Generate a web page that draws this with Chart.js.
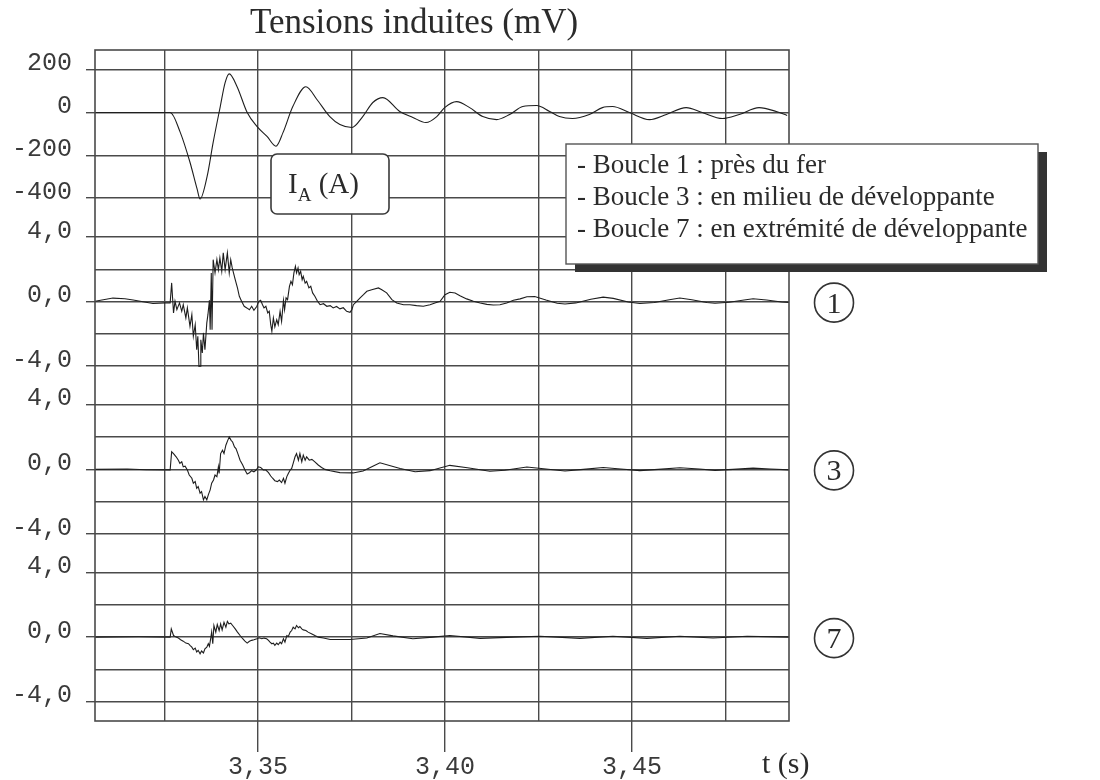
<!DOCTYPE html>
<html lang="fr">
<head>
<meta charset="utf-8">
<title>Tensions induites</title>
<script src="https://cdn.jsdelivr.net/npm/chart.js@4.4.1/dist/chart.umd.min.js"></script>
<style>
  html, body { margin: 0; padding: 0; background: #fff; }
  canvas { display: block; }
</style>
</head>
<body>
<canvas id="graphique" width="1100" height="780"></canvas>
<script>
// courant I_A (A)
const tIA = [3.3064, 3.3185, 3.3265, 3.3292, 3.3318, 3.3337, 3.3345, 3.3364, 3.3380, 3.3399,
  3.3412, 3.3423, 3.3444, 3.3471, 3.3497, 3.3524, 3.3548, 3.3567, 3.3593, 3.3628,
  3.3658, 3.3692, 3.3719, 3.3751, 3.3780, 3.3807, 3.3834, 3.3879, 3.3914, 3.3949,
  3.3978, 3.3999, 3.4031, 3.4066, 3.4101, 3.4138, 3.4173, 3.4208, 3.4245, 3.4280,
  3.4306, 3.4341, 3.4386, 3.4421, 3.4448, 3.4493, 3.4547, 3.4592, 3.4645, 3.4688,
  3.4742, 3.4787, 3.4840, 3.4886, 3.4915];
const vIA = [0, 0, 0, -93, -233, -358, -405, -298, -140, 28,
  140, 181, 121, 0, -65, -112, -158, -93, 28, 121,
  60, -19, -56, -70, -19, 47, 70, 5, -23, -47,
  -19, 23, 51, 23, -19, -33, -9, 28, 33, 5,
  -19, -28, -9, 23, 28, 0, -33, -9, 23, 0,
  -28, -9, 23, 5, -14];

// boucle 1 (mV)
const tB1 = [3.3064, 3.3112, 3.3144, 3.3166, 3.3219, 3.3251, 3.3265, 3.3269, 3.3274, 3.3278,
  3.3283, 3.3290, 3.3296, 3.3300, 3.3307, 3.3311, 3.3318, 3.3323, 3.3327, 3.3332,
  3.3336, 3.3339, 3.3342, 3.3345, 3.3347, 3.3351, 3.3354, 3.3358, 3.3363, 3.3366,
  3.3370, 3.3372, 3.3375, 3.3377, 3.3380, 3.3385, 3.3390, 3.3394, 3.3398, 3.3403,
  3.3407, 3.3412, 3.3418, 3.3423, 3.3427, 3.3431, 3.3439, 3.3445, 3.3450, 3.3456,
  3.3463, 3.3470, 3.3477, 3.3483, 3.3489, 3.3497, 3.3502, 3.3507, 3.3512, 3.3516,
  3.3521, 3.3526, 3.3530, 3.3534, 3.3537, 3.3541, 3.3545, 3.3550, 3.3554, 3.3559,
  3.3563, 3.3568, 3.3571, 3.3575, 3.3579, 3.3584, 3.3588, 3.3592, 3.3596, 3.3600,
  3.3603, 3.3607, 3.3610, 3.3614, 3.3618, 3.3621, 3.3626, 3.3630, 3.3636, 3.3641,
  3.3646, 3.3652, 3.3659, 3.3666, 3.3675, 3.3684, 3.3693, 3.3701, 3.3710, 3.3719,
  3.3728, 3.3737, 3.3746, 3.3751, 3.3755, 3.3764, 3.3773, 3.3782, 3.3791, 3.3804,
  3.3822, 3.3831, 3.3844, 3.3858, 3.3871, 3.3889, 3.3906, 3.3924, 3.3942, 3.3960,
  3.3973, 3.3987, 3.4000, 3.4013, 3.4027, 3.4040, 3.4058, 3.4076, 3.4094, 3.4112,
  3.4129, 3.4147, 3.4165, 3.4183, 3.4201, 3.4219, 3.4240, 3.4270, 3.4300, 3.4321,
  3.4350, 3.4390, 3.4423, 3.4450, 3.4490, 3.4521, 3.4560, 3.4600, 3.4628, 3.4660,
  3.4700, 3.4722, 3.4760, 3.4800, 3.4824, 3.4860, 3.4900, 3.4920];
const vB1 = [0.02, 0.22, 0.18, 0.10, -0.12, -0.08, -0.08, 1.16, -0.70, 0.02,
  -0.50, -0.08, -0.60, -0.19, -1.01, -0.39, -1.53, -0.81, -2.15, -1.43,
  -2.98, -2.15, -4.01, -4.00, -2.36, -3.18, -1.94, -2.98, -1.32, -0.81,
  0.08, -1.74, 1.78, -1.74, 2.60, 1.78, 2.60, 1.98, 2.71, 1.88,
  3.02, 1.98, 3.02, 1.78, 2.60, 2.09, 1.36, 0.85, 0.33, 0.02,
  -0.29, -0.39, -0.50, -0.29, -0.54, -0.29, 0.02, 0.08, -0.19, -0.39,
  -0.29, -0.70, -0.60, -1.43, -1.84, -1.01, -1.57, -1.12, -1.43, -0.60,
  -1.22, 0.08, -0.50, 0.23, 0.12, 0.95, 1.26, 1.05, 1.78, 2.19,
  1.78, 2.09, 1.67, 1.88, 1.36, 1.57, 1.15, 1.26, 0.85, 0.95,
  0.54, 0.33, 0.02, -0.19, -0.13, -0.29, -0.25, -0.39, -0.30, -0.45,
  -0.38, -0.60, -0.66, -0.50, -0.19, 0.02, 0.23, 0.43, 0.64, 0.74,
  0.85, 0.74, 0.54, 0.12, -0.08, -0.19, -0.19, -0.25, -0.29, -0.19,
  -0.08, 0.02, 0.43, 0.58, 0.54, 0.37, 0.17, 0.02, -0.08, -0.17,
  -0.21, -0.19, -0.08, 0.08, 0.17, 0.30, 0.32, 0.10, -0.10, -0.15,
  -0.08, 0.15, 0.28, 0.20, -0.02, -0.12, -0.05, 0.12, 0.22, 0.12,
  -0.05, -0.10, -0.04, 0.10, 0.18, 0.10, -0.02, -0.05];

// boucle 3 (mV)
const tB3 = [3.3064, 3.3150, 3.3200, 3.3265, 3.3269, 3.3274, 3.3281, 3.3287, 3.3291, 3.3296,
  3.3300, 3.3305, 3.3311, 3.3316, 3.3323, 3.3327, 3.3332, 3.3336, 3.3340, 3.3345,
  3.3349, 3.3354, 3.3358, 3.3363, 3.3367, 3.3372, 3.3376, 3.3381, 3.3385, 3.3390,
  3.3394, 3.3396, 3.3400, 3.3405, 3.3409, 3.3414, 3.3419, 3.3423, 3.3428, 3.3432,
  3.3437, 3.3441, 3.3446, 3.3452, 3.3459, 3.3465, 3.3471, 3.3477, 3.3483, 3.3489,
  3.3495, 3.3501, 3.3507, 3.3514, 3.3521, 3.3528, 3.3534, 3.3539, 3.3545, 3.3552,
  3.3557, 3.3563, 3.3568, 3.3572, 3.3577, 3.3581, 3.3586, 3.3590, 3.3594, 3.3599,
  3.3603, 3.3608, 3.3612, 3.3617, 3.3621, 3.3626, 3.3630, 3.3637, 3.3644, 3.3652,
  3.3661, 3.3670, 3.3679, 3.3693, 3.3719, 3.3754, 3.3781, 3.3807, 3.3826, 3.3861,
  3.3880, 3.3920, 3.3960, 3.4013, 3.4060, 3.4120, 3.4160, 3.4219, 3.4270, 3.4321,
  3.4370, 3.4423, 3.4470, 3.4521, 3.4570, 3.4628, 3.4680, 3.4722, 3.4770, 3.4824,
  3.4870, 3.4920];
const vB3 = [0.00, 0.02, -0.02, -0.03, 1.09, 0.98, 0.78, 0.57, 0.37, 0.47,
  0.16, 0.20, -0.04, -0.35, -0.55, -0.86, -0.76, -1.17, -1.07, -1.48,
  -1.38, -1.89, -1.68, -1.89, -1.58, -1.27, -0.86, -0.66, -0.35, -0.45,
  0.16, -0.25, 0.98, 1.19, 0.98, 1.50, 1.80, 2.01, 1.80, 1.70,
  1.39, 1.29, 0.98, 0.57, 0.27, -0.04, -0.29, -0.21, -0.08, -0.15,
  -0.04, 0.16, 0.12, -0.03, -0.04, -0.20, -0.41, -0.55, -0.70, -0.76,
  -0.66, -0.82, -0.55, -0.86, -0.45, -0.25, -0.04, 0.06, 0.37, 0.78,
  0.98, 0.57, 0.98, 0.47, 0.88, 0.57, 0.78, 0.57, 0.62, 0.47,
  0.27, 0.12, 0.00, -0.08, -0.20, -0.22, -0.10, 0.20, 0.41, 0.18,
  0.05, -0.15, -0.08, 0.25, 0.10, -0.12, -0.05, 0.15, 0.02, -0.10,
  0.00, 0.12, 0.02, -0.08, 0.00, 0.10, 0.02, -0.06, 0.00, 0.08,
  0.02, -0.03];

// boucle 7 (mV)
const tB7 = [3.3064, 3.3180, 3.3265, 3.3268, 3.3274, 3.3281, 3.3287, 3.3293, 3.3300, 3.3307,
  3.3314, 3.3318, 3.3323, 3.3327, 3.3332, 3.3336, 3.3340, 3.3345, 3.3349, 3.3354,
  3.3358, 3.3363, 3.3367, 3.3370, 3.3374, 3.3376, 3.3379, 3.3382, 3.3387, 3.3391,
  3.3396, 3.3400, 3.3404, 3.3409, 3.3414, 3.3418, 3.3422, 3.3427, 3.3432, 3.3439,
  3.3445, 3.3452, 3.3459, 3.3465, 3.3471, 3.3477, 3.3483, 3.3489, 3.3497, 3.3503,
  3.3510, 3.3516, 3.3523, 3.3528, 3.3532, 3.3537, 3.3541, 3.3545, 3.3550, 3.3554,
  3.3559, 3.3563, 3.3568, 3.3572, 3.3577, 3.3581, 3.3586, 3.3590, 3.3594, 3.3599,
  3.3603, 3.3608, 3.3612, 3.3617, 3.3621, 3.3628, 3.3634, 3.3644, 3.3652, 3.3661,
  3.3675, 3.3693, 3.3746, 3.3791, 3.3826, 3.3861, 3.3914, 3.3968, 3.4013, 3.4094,
  3.4182, 3.4254, 3.4361, 3.4449, 3.4540, 3.4628, 3.4717, 3.4808, 3.4920];
const vB7 = [0.00, 0.02, 0.00, 0.51, 0.10, 0.00, -0.06, -0.16, -0.25, -0.37,
  -0.41, -0.51, -0.62, -0.78, -0.68, -0.92, -0.82, -1.03, -0.86, -0.98,
  -0.72, -0.62, -0.41, -0.57, 0.00, 0.31, -0.41, 0.72, 0.31, 0.78,
  0.41, 0.82, 0.45, 0.92, 0.62, 0.98, 0.82, 0.86, 0.72, 0.51,
  0.31, 0.10, -0.10, -0.25, -0.37, -0.26, -0.20, -0.16, -0.10, -0.04,
  -0.10, -0.06, -0.10, -0.20, -0.31, -0.41, -0.37, -0.51, -0.37, -0.47,
  -0.31, -0.41, -0.10, -0.31, 0.10, 0.04, 0.31, 0.41, 0.62, 0.51,
  0.72, 0.58, 0.66, 0.51, 0.45, 0.41, 0.31, 0.20, 0.10, 0.00,
  -0.05, -0.15, -0.15, -0.05, 0.22, 0.08, -0.10, 0.00, 0.10, -0.08,
  0.00, 0.05, -0.08, 0.05, -0.08, 0.05, -0.05, 0.05, 0.00];

const ticksT = [3.325, 3.35, 3.375, 3.40, 3.425, 3.45, 3.475];
const ticksTEtiquette = [3.35, 3.40, 3.45];
const ticksIA = [-400, -200, 0, 200];
const ticksBoucle = [-4, -2, 0, 2, 4];
const ticksBoucleEtiquette = [-4, 0, 4];
const legende = ['- Boucle 1 : près du fer',
  '- Boucle 3 : en milieu de développante',
  '- Boucle 7 : en extrémité de développante'];

const gris = '#4a4a4a';
const trait = '#1e1e1e';
const texte = '#2b2b2b';
const invisible = 'rgba(0,0,0,0)';
const mono = {family: 'Liberation Mono', size: 25};

function points(t, v) {
    return t.map((x, i) => ({x: x, y: v[i]}));
}

function virgule(v, d) {
    return v.toFixed(d).replace('.', ',');
}

function estEtiquetteT(v) {
    return ticksTEtiquette.some(l => Math.abs(l - v) < 1e-6);
}

function axeY(poids, min, max, valeurs, etiquettes, format) {
    return {
        type: 'linear',
        position: 'left',
        stack: 'tensions',
        stackWeight: 1,
        weight: poids,
        min: min,
        max: max,
        afterBuildTicks: s => { s.ticks = valeurs.map(v => ({value: v})); },
        afterFit: s => { s.width = 95; },
        border: {display: false},
        grid: {
            color: gris,
            lineWidth: 1.4,
            tickLength: 9,
            tickColor: c => (c.tick && etiquettes.includes(c.tick.value)) ? gris : invisible
        },
        ticks: {
            autoSkip: false,
            padding: 14,
            labelOffset: -6,
            color: '#3a3a3a',
            font: mono,
            callback: v => etiquettes.includes(v) ? format(v) : ''
        }
    };
}

function serie(t, v, axe, lisse) {
    return {
        data: points(t, v),
        yAxisID: axe,
        borderColor: trait,
        borderWidth: 1.1,
        pointRadius: 0,
        tension: 0,
        cubicInterpolationMode: lisse ? 'monotone' : 'default'
    };
}

const habillage = {
    id: 'habillage',
    afterDraw(chart) {
        const ctx = chart.ctx;
        const a = chart.chartArea;
        ctx.save();

        // cadre
        ctx.strokeStyle = gris;
        ctx.lineWidth = 1.6;
        ctx.strokeRect(a.left, a.top, a.right - a.left, a.bottom - a.top);

        ctx.textAlign = 'left';
        ctx.textBaseline = 'alphabetic';
        ctx.fillStyle = texte;
        ctx.font = '35px "Liberation Serif"';
        ctx.fillText('Tensions induites (mV)', 250, 33);

        // cartouche I_A (A)
        ctx.beginPath();
        ctx.roundRect(271, 154, 118, 60, 6);
        ctx.fillStyle = '#fff';
        ctx.fill();
        ctx.strokeStyle = '#3a3a3a';
        ctx.lineWidth = 1.6;
        ctx.stroke();
        ctx.fillStyle = texte;
        ctx.font = '29px "Liberation Serif"';
        ctx.fillText('I', 288, 193);
        let x = 288 + ctx.measureText('I').width;
        ctx.font = '19px "Liberation Serif"';
        ctx.fillText('A', x, 201);
        x += ctx.measureText('A').width;
        ctx.font = '29px "Liberation Serif"';
        ctx.fillText(' (A)', x, 193);

        // legende avec ombre
        ctx.fillStyle = '#333';
        ctx.fillRect(575, 152, 472, 120);
        ctx.fillStyle = '#fff';
        ctx.fillRect(566, 144, 472, 120);
        ctx.strokeStyle = '#555';
        ctx.lineWidth = 1.4;
        ctx.strokeRect(566, 144, 472, 120);
        ctx.fillStyle = texte;
        ctx.font = '27px "Liberation Serif"';
        legende.forEach((l, i) => ctx.fillText(l, 577, 173 + i * 32));

        // numeros de boucle
        [['y1', '1'], ['y3', '3'], ['y7', '7']].forEach(([id, n]) => {
            const y = chart.scales[id].getPixelForValue(0) + 1;
            ctx.beginPath();
            ctx.arc(834, y, 19.5, 0, Math.PI * 2);
            ctx.strokeStyle = '#333';
            ctx.lineWidth = 1.6;
            ctx.stroke();
            ctx.textAlign = 'center';
            ctx.font = '30px "Liberation Serif"';
            ctx.fillText(n, 834, y + 10);
        });

        ctx.textAlign = 'left';
        ctx.font = '30px "Liberation Serif"';
        ctx.fillText('t (s)', 762, 773);
        ctx.restore();
    }
};

new Chart(document.getElementById('graphique').getContext('2d'), {
    type: 'line',
    data: {
        datasets: [
            serie(tIA, vIA, 'yI', true),
            serie(tB1, vB1, 'y1', false),
            serie(tB3, vB3, 'y3', false),
            serie(tB7, vB7, 'y7', false)
        ]
    },
    options: {
        responsive: false,
        animation: false,
        layout: {padding: {top: 50, right: 311, left: 0, bottom: 0}},
        plugins: {
            legend: {display: false},
            tooltip: {enabled: false}
        },
        scales: {
            x: {
                type: 'linear',
                position: 'bottom',
                min: 3.3064,
                max: 3.492,
                afterBuildTicks: s => { s.ticks = ticksT.map(v => ({value: v})); },
                afterFit: s => { s.height = 59; },
                border: {display: false},
                grid: {
                    color: gris,
                    lineWidth: 1.4,
                    tickLength: 31,
                    tickColor: c => (c.tick && estEtiquetteT(c.tick.value)) ? gris : invisible
                },
                ticks: {
                    padding: 0,
                    maxRotation: 0,
                    autoSkip: false,
                    color: '#3a3a3a',
                    font: mono,
                    callback: v => estEtiquetteT(v) ? virgule(v, 2) : ''
                }
            },
            y7: axeY(1, -5.2, 5.2, ticksBoucle, ticksBoucleEtiquette, v => virgule(v, 1)),
            y3: axeY(2, -5.2, 5.2, ticksBoucle, ticksBoucleEtiquette, v => virgule(v, 1)),
            y1: axeY(3, -5.2, 5.2, ticksBoucle, ticksBoucleEtiquette, v => virgule(v, 1)),
            yI: axeY(4, -493, 293, ticksIA, ticksIA, v => String(v))
        }
    },
    plugins: [habillage]
});
</script>
</body>
</html>
